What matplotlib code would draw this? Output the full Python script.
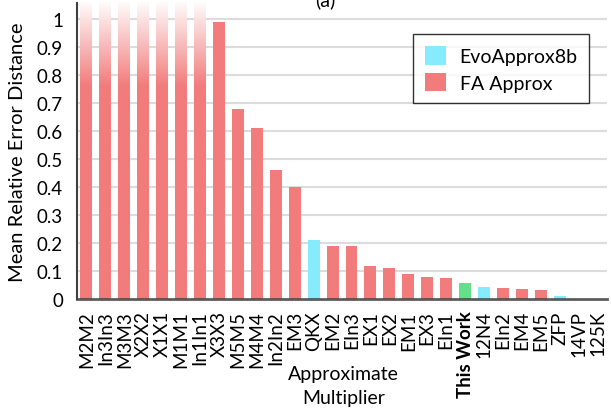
import numpy as np
import matplotlib
matplotlib.use("Agg")
import matplotlib.pyplot as plt
from matplotlib.patches import Patch
from matplotlib.colors import to_rgb

plt.rcParams['font.family'] = ['Lato', 'DejaVu Sans']

categories = ["M2M2", "In3In3", "M3M3", "X2X2", "X1X1", "M1M1", "In1In1", "X3X3",
              "M5M5", "M4M4", "In2In2", "EM3", "QKX", "EM2", "EIn3", "EX1", "EX2",
              "EM1", "EX3", "EIn1", "This Work", "12N4", "EIn2", "EM4", "EM5",
              "ZFP", "14VP", "125K"]
# bars that run past the top of the axis are given the axis limit
values = [1.06, 1.06, 1.06, 1.06, 1.06, 1.06, 1.06, 0.99,
          0.68, 0.61, 0.46, 0.40, 0.21, 0.19, 0.19, 0.12, 0.11,
          0.09, 0.08, 0.075, 0.057, 0.043, 0.039, 0.036, 0.032,
          0.011, 0.0, 0.0]
groups = ["FA", "FA", "FA", "FA", "FA", "FA", "FA", "FA",
          "FA", "FA", "FA", "FA", "Evo", "FA", "FA", "FA", "FA",
          "FA", "FA", "FA", "Ours", "Evo", "FA", "FA", "FA",
          "Evo", "Evo", "Evo"]
yticks = [0, 0.1, 0.2, 0.3, 0.4, 0.5, 0.6, 0.7, 0.8, 0.9, 1.0]
ytick_labels = ["0", "0.1", "0.2", "0.3", "0.4", "0.5", "0.6", "0.7", "0.8", "0.9", "1"]

colors = {"FA": "#F27B7B", "Evo": "#86EBFD", "Ours": "#62E08A"}
YMAX = 1.057

fig = plt.figure(figsize=(6.11, 4.10), dpi=100)
ax = fig.add_axes([0.126, 0.268, 0.8675, 0.722])

x = np.arange(len(categories))
bars = ax.bar(x, values, width=0.63, color=[colors[g] for g in groups], zorder=2)

# fade the overflowing bars to white
for b, v, g in zip(bars, values, groups):
    if v > 1.0:
        b.set_facecolor("none")
        base = np.array(to_rgb(colors[g]))
        n = 200
        yy = np.linspace(0, YMAX, n)
        t = np.clip((yy - 0.757) / (YMAX - 0.757), 0, 1) * 0.97
        rgb = base[None, :] * (1 - t[:, None]) + np.ones(3)[None, :] * t[:, None]
        img = rgb[:, None, :]
        x0 = b.get_x()
        im = ax.imshow(img, extent=[x0, x0 + b.get_width(), 0, YMAX],
                       origin="lower", aspect="auto", zorder=2, interpolation="bilinear")
        im.set_clip_path(b)

ax.set_xlim(-0.5, len(categories) - 0.5)
ax.set_ylim(0, YMAX)
ax.set_yticks(yticks)
ax.set_yticklabels(ytick_labels, fontsize=13.5)
ax.set_xticks(x)
ax.set_xticklabels(categories, rotation=90, fontsize=13.5)
for lbl in ax.get_xticklabels():
    if lbl.get_text() == "This Work":
        lbl.set_fontweight("bold")
ax.tick_params(axis="both", length=0)
ax.tick_params(axis="y", pad=10)
ax.tick_params(axis="x", pad=8)

for yv in yticks[1:]:
    ax.axhline(yv, color="#DCDCDC", lw=1.5, zorder=1)

for s in ["top", "right"]:
    ax.spines[s].set_visible(False)
ax.spines["left"].set_color("#404040")
ax.spines["left"].set_linewidth(1.5)
ax.spines["bottom"].set_color("#404040")
ax.spines["bottom"].set_linewidth(2)
ax.spines["bottom"].set_zorder(3)
ax.spines["bottom"].set_alpha(0.85)

ax.set_ylabel("Mean Relative Error Distance", fontsize=14.5, labelpad=8)
fig.text(0.562, 0.057, "Approximate\nMultiplier", ha="center", va="center",
         fontsize=14, linespacing=1.55)
fig.text(0.532, 1.0, "(a)", ha="center", va="center", fontsize=14)

handles = [Patch(facecolor=colors["Evo"], label="EvoApprox8b"),
           Patch(facecolor=colors["FA"], label="FA Approx")]
leg = ax.legend(handles=handles, loc="upper left", bbox_to_anchor=(0.634, 0.895),
                borderaxespad=0, fontsize=14, frameon=True, fancybox=False,
                edgecolor="black", handlelength=1.1, handleheight=1.1,
                handletextpad=0.7, borderpad=0.6, labelspacing=0.4)
leg.get_frame().set_linewidth(1.0)

fig.savefig("out.png", dpi=100)
